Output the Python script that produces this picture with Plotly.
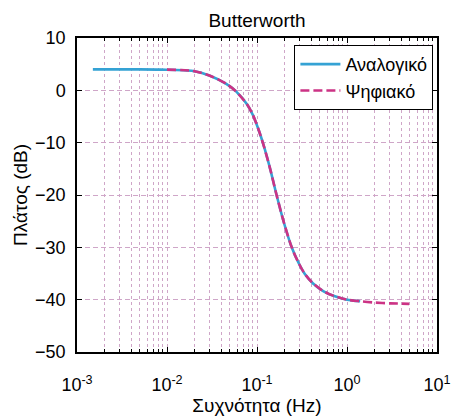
import plotly.graph_objects as go

# Analog response (Hz, dB)
analog_f = [0.0015, 0.005, 0.0085, 0.0195, 0.03, 0.046, 0.0585, 0.077, 0.09, 0.1035,
            0.1175, 0.14, 0.165, 0.2, 0.243, 0.29, 0.34, 0.42, 0.55, 0.72, 1.0, 1.4]
analog_db = [4.0, 4.0, 3.95, 3.7, 2.8, 1.2, -0.2, -2.6, -4.7, -7.4,
             -10.3, -15.0, -20.0, -25.4, -30.0, -33.0, -35.1, -36.9, -38.4, -39.3, -40.0, -40.3]

# Digital response (Hz, dB)
digital_f = [0.01, 0.0195, 0.03, 0.046, 0.0585, 0.077, 0.09, 0.1035,
             0.1175, 0.14, 0.165, 0.2, 0.243, 0.29, 0.34, 0.42, 0.55, 0.72, 1.0, 1.4,
             2.0, 3.0, 4.9]
digital_db = [3.95, 3.7, 2.8, 1.2, -0.2, -2.6, -4.7, -7.4,
              -10.3, -15.0, -20.0, -25.4, -30.0, -33.0, -35.1, -36.9, -38.4, -39.3, -40.0, -40.3,
              -40.55, -40.7, -40.8]

x_tickvals = [0.001, 0.01, 0.1, 1, 10]
x_ticktext = ["10<sup>-3</sup>", "10<sup>-2</sup>", "10<sup>-1</sup>", "10<sup>0</sup>", "10<sup>1</sup>"]
y_tickvals = [-50, -40, -30, -20, -10, 0, 10]

minor_vals = [m * d for d in (0.001, 0.01, 0.1, 1) for m in range(2, 10)]

FONT = "Liberation Sans, Arial, sans-serif"
GRID = "#cfa6c8"

fig = go.Figure()
fig.add_trace(go.Scatter(x=analog_f, y=analog_db, mode="lines", name="Αναλογικό",
                         line=dict(color="#35a2d4", width=2.6, shape="spline", smoothing=0.7)))
fig.add_trace(go.Scatter(x=digital_f, y=digital_db, mode="lines", name="Ψηφιακό",
                         line=dict(color="#cc3385", width=2.6, dash="9px,4px",
                                   shape="spline", smoothing=0.7)))

fig.update_layout(
    width=453, height=416,
    margin=dict(l=77, r=16, t=38, b=64),
    paper_bgcolor="white", plot_bgcolor="white",
    font=dict(family=FONT, size=18, color="black"),
    title=dict(text="Butterworth", x=0.5, xref="paper", xanchor="center",
               y=1, yref="paper", yanchor="bottom", pad=dict(b=11),
               font=dict(family=FONT, size=19, color="black")),
    showlegend=True,
    legend=dict(x=0.99, xanchor="right", y=0.978, yanchor="top",
                bgcolor="white", bordercolor="black", borderwidth=1,
                font=dict(family=FONT, size=18), itemwidth=40, tracegroupgap=0),
)

fig.update_xaxes(type="log", range=[-3, 1], tickmode="array", automargin=False,
                 tickvals=x_tickvals, ticktext=x_ticktext,
                 showline=True, linecolor="black", linewidth=1.5, mirror="ticks",
                 ticks="inside", ticklen=5, tickcolor="black",
                 showgrid=True, gridcolor=GRID, griddash="3px,3px", gridwidth=1,
                 minor=dict(tickmode="array", tickvals=minor_vals, showgrid=True,
                            gridcolor=GRID, griddash="3px,3px", gridwidth=1,
                            ticks="inside", ticklen=3, tickcolor="black"),
                 zeroline=False, ticklabelstandoff=16,
                 title=dict(text="Συχνότητα (Hz)", standoff=3, font=dict(family=FONT, size=19)),
                 tickfont=dict(family=FONT, size=18))

fig.update_yaxes(range=[-50, 10], tickmode="array", tickvals=y_tickvals, automargin=False,
                 showline=True, linecolor="black", linewidth=1.5, mirror="ticks",
                 ticks="inside", ticklen=5, tickcolor="black",
                 showgrid=True, gridcolor=GRID, griddash="5px,3px", gridwidth=1,
                 zeroline=False, ticklabelstandoff=6,
                 title=dict(text="Πλάτος (dB)", standoff=2, font=dict(family=FONT, size=19)),
                 tickfont=dict(family=FONT, size=18))

fig.write_html("out.html")
